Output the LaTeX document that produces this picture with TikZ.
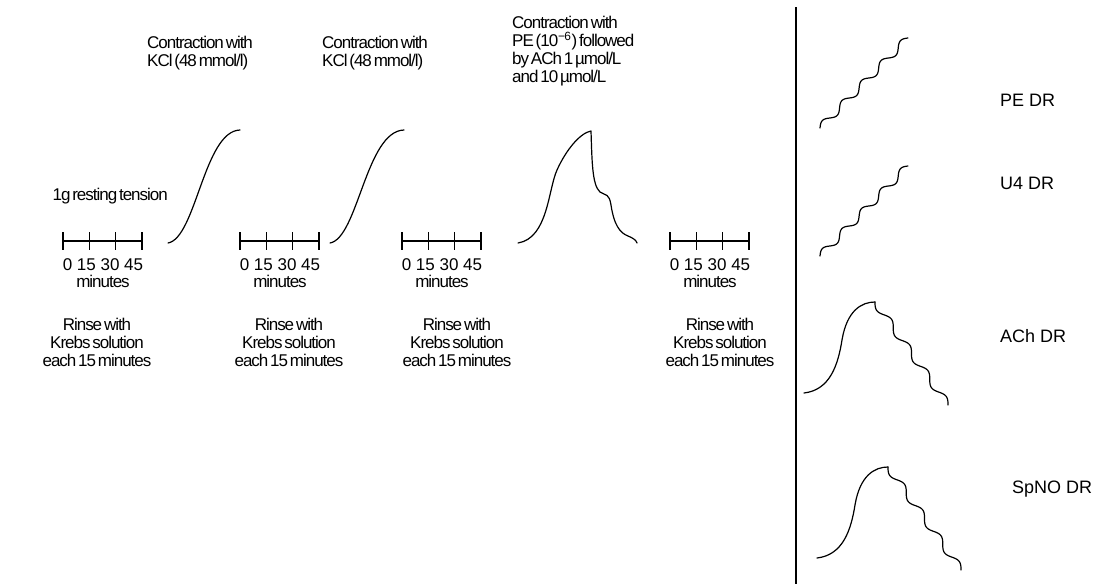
\documentclass[tikz,border=0pt]{standalone}
\usepackage{fontspec}
\setmainfont{Liberation Sans}
\newfontfamily\tightfont{Liberation Sans}[LetterSpace=-6, WordSpace=0.5]
\begin{document}
\begin{tikzpicture}[x=1pt,y=-1pt,
  txt/.style={font=\tightfont\fontsize{17}{18}\selectfont, inner sep=0pt, align=center},
  ltxt/.style={txt, align=left},
  numtxt/.style={font=\fontsize{17}{18}\selectfont, inner sep=0pt},
  big/.style={font=\fontsize{18}{21}\selectfont, inner sep=0pt, align=left},
  trace/.style={line width=1.2pt, line cap=round, line join=round},
  axis/.style={line width=1.2pt}]
\useasboundingbox (0,0) rectangle (1103,584);

% rest period
\node[txt, anchor=east] (rest) at (168,196) {1g resting tension};

% four 45-minute rinse periods
\foreach \t/\x/\r in {a/63/97, b/240/289, c/402/457, d/670/720} {
  \draw[axis] (\x,241) -- ++(79,0);
  \foreach \k in {0,1,2,3} \draw[axis] ({\x+\k*26.33},232) -- ++(0,18);
  \node[numtxt] (num\t) at (\x+40,265) {0 15 30 45};
  \node[txt] (min\t) at (\x+40,281) {minutes};
  \node[txt] (rinse\t) at (\r,342) {Rinse with\\Krebs solution\\each 15 minutes};
}

% KCl contractions
\node[ltxt, anchor=west] (kcl1) at (147,53) {Contraction with\\KCl (48 mmol/l)};
\node[ltxt, anchor=west] (kcl2) at (322,53) {Contraction with\\KCl (48 mmol/l)};
\draw[trace] (168,243) .. controls (196,238) and (204,131) .. (240,130);
\draw[trace] (330,243) .. controls (358,238) and (366,131) .. (404,130);

% PE contraction followed by ACh relaxation
\node[ltxt, anchor=west] (pe) at (512,51) {Contraction with\\PE (10\textsuperscript{−6}) followed\\by ACh 1 µmol/L\\and 10 µmol/L};
\draw[trace] (518,243) .. controls (548,238) and (548,190) .. (557,170)
  .. controls (566,150) and (580,133) .. (591,131)
  .. controls (592,160) and (592,185) .. (600,192)
  .. controls (606,196) and (609,193) .. (611,205)
  .. controls (614,225) and (620,233) .. (628,236)
  .. controls (633,238) and (636,240) .. (637,243);

% separator
\draw[line width=1.5pt] (796,7) -- (796,584);

% dose-response protocols
\foreach \dy in {0,128}
  \draw[trace] plot[domain=0:1, samples=160, smooth]
    ({820+88*\x - 3.5*0.715*sin(4.5*360*\x)}, {128+\dy-90*\x - 3.5*0.699*sin(4.5*360*\x)});

\foreach \sx/\sy in {0/0, 13/165} {
  \begin{scope}[shift={(\sx,\sy)}]
    \draw[trace] (804,393) .. controls (830,390) and (838,365) .. (842,340)
      .. controls (847,310) and (862,302) .. (875,302);
    \draw[trace] plot[domain=0:1, samples=160, smooth]
      ({875+73*\x - 3.5*0.816*sin(4*360*\x)}, {302+103*\x + 3.5*0.578*sin(4*360*\x)});
  \end{scope}
}

\node[big, anchor=west] (pedr) at (1000,100) {PE DR};
\node[big, anchor=west] (u4dr) at (1000,183) {U4 DR};
\node[big, anchor=west] (achdr) at (1000,336) {ACh DR};
\node[big, anchor=west] (spnodr) at (1012,489) {SpNO DR};
\end{tikzpicture}
\end{document}
